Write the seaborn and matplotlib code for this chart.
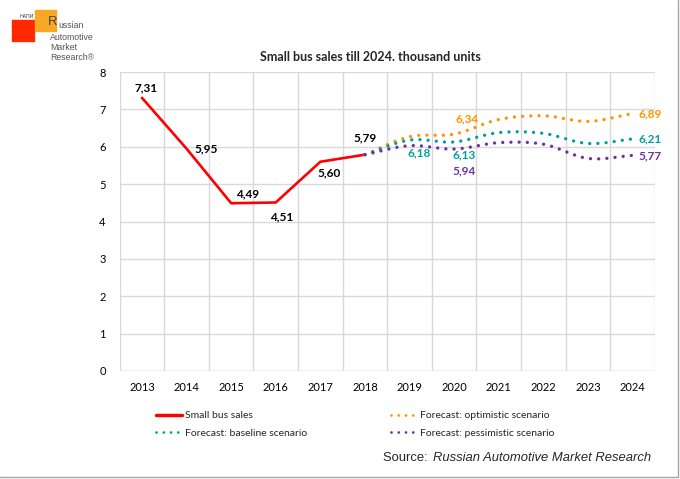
import numpy as np
import pandas as pd
import matplotlib
matplotlib.use("Agg")
import matplotlib.pyplot as plt
from matplotlib.lines import Line2D
from matplotlib.patches import Rectangle
import seaborn as sns

years = [2013, 2014, 2015, 2016, 2017, 2018, 2019, 2020, 2021, 2022, 2023, 2024]
sales = [7.31, 5.95, 4.49, 4.51, 5.60, 5.79]
fc_years = [2018, 2019, 2020, 2021, 2022, 2023, 2024]
optimistic = [5.79, 6.27, 6.34, 6.73, 6.83, 6.68, 6.89]
baseline = [5.79, 6.18, 6.13, 6.38, 6.36, 6.09, 6.21]
pessimistic = [5.79, 6.03, 5.94, 6.11, 6.07, 5.69, 5.77]

RED = "#FF0000"
ORANGE = "#FF9300"
TEAL = "#00A09A"
GREEN = "#00B050"
PURPLE = "#7030A0"

sns.set_style("white")
plt.rcParams['font.family'] = ['Lato', 'DejaVu Sans']


def smooth(xs, ys, n=20):
    # excel-like smoothed line (catmull-rom through the points)
    x = np.asarray(xs, float)
    y = np.asarray(ys, float)
    px = np.concatenate([[2 * x[0] - x[1]], x, [2 * x[-1] - x[-2]]])
    py = np.concatenate([[2 * y[0] - y[1]], y, [2 * y[-1] - y[-2]]])
    ox, oy = [], []
    t = np.linspace(0, 1, n, endpoint=False)
    for i in range(1, len(px) - 2):
        for arr, out in ((px, ox), (py, oy)):
            p0, p1, p2, p3 = arr[i - 1], arr[i], arr[i + 1], arr[i + 2]
            out.extend(0.5 * (2 * p1 + (-p0 + p2) * t
                              + (2 * p0 - 5 * p1 + 4 * p2 - p3) * t ** 2
                              + (-p0 + 3 * p1 - 3 * p2 + p3) * t ** 3))
    ox.append(x[-1])
    oy.append(y[-1])
    return np.array(ox), np.array(oy)


fig = plt.figure(figsize=(6.8, 4.79), dpi=100)
ax = fig.add_axes([0.176, 0.2255, 0.787, 0.624])

pos = {y: i for i, y in enumerate(years)}
df = pd.DataFrame({'x': [pos[y] for y in years[:len(sales)]], 'v': sales})
sns.lineplot(data=df, x='x', y='v', color=RED, linewidth=1.9, ax=ax)

dot = (0, (0.01, 2.45))
for vals, col in ((optimistic, ORANGE), (baseline, TEAL), (pessimistic, PURPLE)):
    sx, sy = smooth([pos[y] for y in fc_years], vals)
    sns.lineplot(x=sx, y=sy, sort=False, color=col, linewidth=2.4,
                 linestyle=dot, dash_capstyle='round', ax=ax)

ax.set_xlim(-0.5, 11.5)
ax.set_ylim(0, 8)
ax.set_xticks(range(len(years)))
ax.set_xticklabels([str(y) for y in years])
ax.set_yticks(range(0, 9))
ax.set_xticks(np.arange(-0.5, 12, 1), minor=True)
ax.grid(False)
ax.grid(which='minor', axis='x', color='#D9D9D9', linewidth=1)
ax.grid(which='major', axis='y', color='#D9D9D9', linewidth=1)
ax.tick_params(which='both', length=0, labelsize=8, colors='#000000')
ax.tick_params(axis='x', pad=8)
ax.tick_params(axis='y', pad=10)
for s in ax.spines.values():
    s.set_visible(False)
ax.axhline(0, color='#D9D9D9', linewidth=1)
ax.set_xlabel(None)
ax.set_ylabel(None)

def lab(x, y, txt, dx, dy, col='black', ha='center'):
    ax.annotate(txt, (pos[x], y), xytext=(dx, dy), textcoords='offset points',
                ha=ha, va='center', fontsize=8.5, fontweight='bold', color=col)

fmt = lambda v: f"{v:.2f}".replace('.', ',')
lab(2013, sales[0], fmt(sales[0]), 3, 7)
lab(2014, sales[1], fmt(sales[1]), 14, 0)
lab(2015, sales[2], fmt(sales[2]), 12, 7)
lab(2016, sales[3], fmt(sales[3]), 4, -10)
lab(2017, sales[4], fmt(sales[4]), 6, -8)
lab(2018, sales[5], fmt(sales[5]), 0, 12)
lab(2020, optimistic[2], fmt(optimistic[2]), 9, 11, ORANGE)
lab(2019, baseline[1], fmt(baseline[1]), 7, -9, TEAL)
lab(2020, baseline[2], fmt(baseline[2]), 7, -9, TEAL)
lab(2020, pessimistic[2], fmt(pessimistic[2]), 7, -16, PURPLE)
lab(2024, optimistic[-1], fmt(optimistic[-1]), 4, 0, ORANGE, 'left')
lab(2024, baseline[-1], fmt(baseline[-1]), 4, 0, TEAL, 'left')
lab(2024, pessimistic[-1], fmt(pessimistic[-1]), 4, 0, PURPLE, 'left')

fig.text(0.545, 0.88, "Small bus sales till 2024. thousand units", ha='center',
         va='center', fontsize=9, fontweight='bold')

ldot = (0, (0.01, 2.6))
handles = [
    Line2D([], [], color=RED, linewidth=2.5),
    Line2D([], [], color=GREEN, linewidth=2.0, linestyle=ldot, dash_capstyle='round'),
    Line2D([], [], color=ORANGE, linewidth=2.0, linestyle=ldot, dash_capstyle='round'),
    Line2D([], [], color=PURPLE, linewidth=2.0, linestyle=ldot, dash_capstyle='round'),
]
labels = ["Small bus sales", "Forecast: baseline scenario",
          "Forecast: optimistic scenario", "Forecast: pessimistic scenario"]
fig.legend(handles, labels, ncol=2, loc='center left', bbox_to_anchor=(0.215, 0.114),
           frameon=False, fontsize=7.5, handlelength=2.5, handletextpad=0.3,
           columnspacing=8.1, labelspacing=0.75)

fig.text(0.563, 0.044, "Source: ", ha='left', va='center', fontsize=9.4,
         family='Liberation Sans')
fig.text(0.637, 0.044, "Russian Automotive Market Research", ha='left', va='center',
         fontsize=9.4, family='Liberation Sans', style='italic')

# logo
fig.add_artist(Rectangle((12 / 680, 1 - 41 / 479), 22 / 680, 21 / 479,
                         transform=fig.transFigure, color='#FF2A00', zorder=1))
fig.add_artist(Rectangle((35 / 680, 1 - 31 / 479), 21 / 680, 21 / 479,
                         transform=fig.transFigure, color='#F9A825', zorder=1))
fig.text(20 / 680, 1 - 17 / 479, "НАПИ", fontsize=3.5, color='#333333', va='center')
logo_font = 'Liberation Sans'
fig.text(48 / 680, 1 - 22 / 479, "R", fontsize=9.5, color='#444444', va='center',
         family=logo_font)
fig.text(58 / 680, 1 - 26 / 479, "ussian", fontsize=6.3, color='#555555', va='center',
         family=logo_font)
fig.text(50 / 680, 1 - 37 / 479, "Automotive", fontsize=6.3, color='#555555', va='center',
         family=logo_font)
fig.text(50 / 680, 1 - 47 / 479, "Market", fontsize=6.3, color='#555555', va='center',
         family=logo_font)
fig.text(50 / 680, 1 - 57 / 479, "Research\u00ae", fontsize=6.3, color='#555555',
         va='center', family=logo_font)

# frame
fig.add_artist(Line2D([677.5 / 680] * 2, [1 - 476 / 479, 1], transform=fig.transFigure,
                      color='#A6A6A6', linewidth=1))
fig.add_artist(Line2D([0, 677.5 / 680], [1 - 476.5 / 479] * 2, transform=fig.transFigure,
                      color='#A6A6A6', linewidth=1))

fig.savefig("out.png", dpi=100)
